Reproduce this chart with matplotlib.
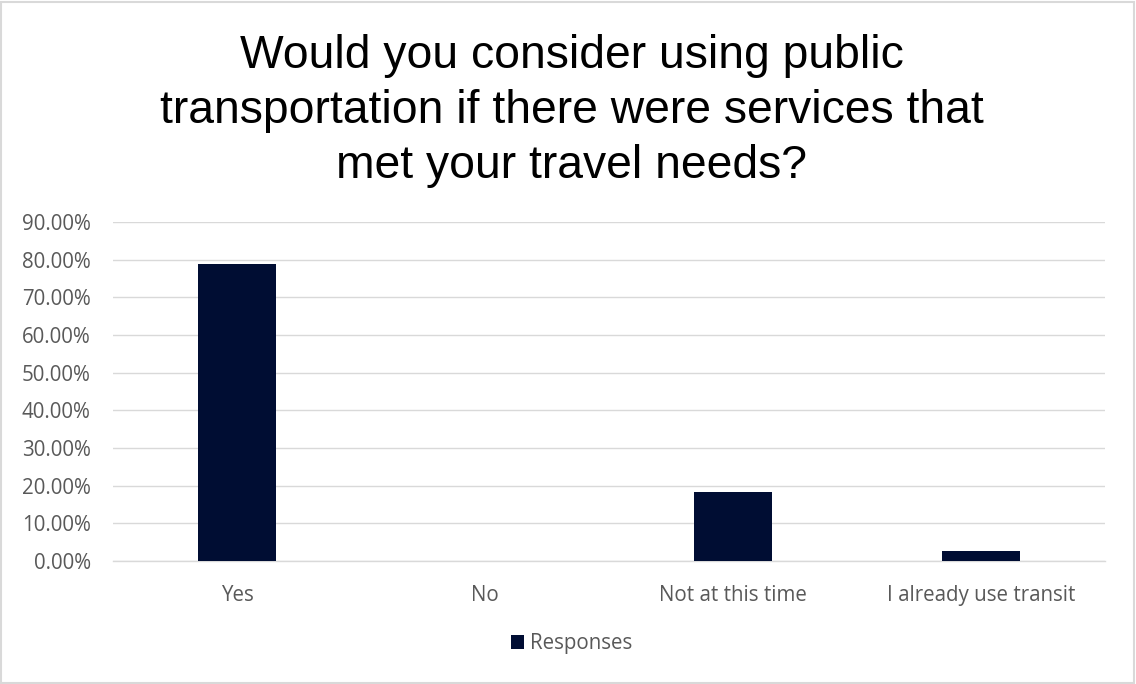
import matplotlib.pyplot as plt
from matplotlib.patches import Rectangle
from matplotlib.ticker import PercentFormatter

# Survey answers (share of respondents)
categories = ["Yes", "No", "Not at this time", "I already use transit"]
responses = [0.7895, 0.0, 0.1842, 0.0263]
series_name = "Responses"

title = ("Would you consider using public\n"
         "transportation if there were services that\n"
         "met your travel needs?")

bar_color = "#000D33"
text_color = "#595959"
grid_color = "#D9D9D9"
label_size = 14.8

fig = plt.figure(figsize=(11.36, 6.84), dpi=100)
ax = fig.add_axes([0.0995, 0.1798, 0.8732, 0.4956])

x = range(len(categories))
ax.bar(x, responses, width=0.315, color=bar_color, label=series_name, zorder=3)

ax.set_xlim(-0.5, len(categories) - 0.5)
ax.set_ylim(0, 0.9)
ax.set_yticks([i / 10 for i in range(10)])
ax.yaxis.set_major_formatter(PercentFormatter(1.0, decimals=2))
ax.set_xticks(list(x))
ax.set_xticklabels(categories)

ax.grid(axis="y", color=grid_color, linewidth=1, zorder=0)
for side in ["top", "right", "left"]:
    ax.spines[side].set_visible(False)
ax.spines["bottom"].set_color(grid_color)
ax.spines["bottom"].set_linewidth(1)

ax.tick_params(axis="both", length=0, labelcolor=text_color, labelsize=label_size)
ax.tick_params(axis="x", pad=17)
ax.tick_params(axis="y", pad=16)
for lbl in ax.get_xticklabels() + ax.get_yticklabels():
    lbl.set_fontfamily("Open Sans")

fig.text(0.503, 0.838, title, ha="center", va="center", fontsize=33.3,
         family="Liberation Sans", color="black", linespacing=1.33)

leg = fig.legend(loc="center", bbox_to_anchor=(0.503, 0.0585), frameon=False,
                 handlelength=0.65, handleheight=0.65, handletextpad=0.3,
                 prop={"family": "Open Sans", "size": label_size})
for t in leg.get_texts():
    t.set_color(text_color)

# thin grey frame around the whole chart
fig.patches.append(Rectangle((0.001, 0.002), 0.997, 0.995, transform=fig.transFigure,
                             fill=False, edgecolor="#D9D9D9", linewidth=1.5))

fig.savefig("out.png", dpi=100)
